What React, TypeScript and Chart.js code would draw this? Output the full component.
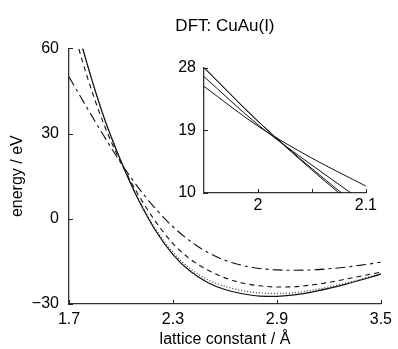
import React, { useEffect, useRef } from "react";
import { Chart, registerables } from "chart.js";

Chart.register(...registerables);

// ---- data ----
const latticeA = [1.7, 1.8, 1.9, 2.0, 2.1, 2.2, 2.3, 2.4, 2.5, 2.6, 2.7, 2.8, 2.9, 3.0, 3.1, 3.2, 3.3, 3.4, 3.5];
const solidE = [78, 55.5, 36, 20.3, 6.8, -4.2, -12.6, -18.5, -22.4, -24.9, -26.4, -27.2, -27.3, -26.8, -25.8, -24.5, -23, -21.3, -19.5];
const dottedE = [78, 55.5, 36, 20.3, 7.2, -3.6, -11.8, -17.6, -21.4, -23.8, -25.3, -26.1, -26.3, -26, -25.2, -24, -22.6, -21, -19.3];
const dashedE = [72, 51, 33.5, 19.8, 8.5, -1, -8.7, -14.2, -18, -20.8, -22.6, -23.6, -24, -23.9, -23.3, -22.4, -21.2, -20, -18.8];
const dashDotE = [50, 39.5, 29.3, 19.6, 11, 3.5, -2.8, -7.9, -11.8, -14.6, -16.4, -17.5, -18, -18.1, -18, -17.6, -17, -16.2, -15.3];
const mainXTicks = [1.7, 2.3, 2.9, 3.5];
const mainYTicks = [-30, 0, 30, 60];

const insetA = [1.95, 2.0, 2.05, 2.1];
const insetSolid = [28, 20.3, 13.3, 6.8];
const insetDotted = [28, 20.3, 13.5, 7.2];
const insetDashed = [26.7, 19.8, 14, 8.5];
const insetDashDot = [25.3, 19.6, 15, 11];
const insetXTicks = [2.0, 2.05, 2.1];
const insetXLabels = ["2", "", "2.1"];
const insetYTicks = [10, 19, 28];

const FONT = "'Liberation Sans', Arial, Helvetica, sans-serif";

const inwardTicks = {
  id: "inwardTicks",
  afterDraw(chart: any) {
    const ctx = chart.ctx;
    const area = chart.chartArea;
    const len = 4;
    ctx.save();
    ctx.strokeStyle = "#222";
    ctx.lineWidth = 1;
    const xs = chart.scales.x;
    const ys = chart.scales.y;
    xs.ticks.forEach((t: any) => {
      const px = Math.round(xs.getPixelForValue(t.value)) + 0.5;
      ctx.beginPath();
      ctx.moveTo(px, area.bottom);
      ctx.lineTo(px, area.bottom - len);
      ctx.stroke();
    });
    ys.ticks.forEach((t: any) => {
      const py = Math.round(ys.getPixelForValue(t.value)) + 0.5;
      ctx.beginPath();
      ctx.moveTo(area.left, py);
      ctx.lineTo(area.left + len, py);
      ctx.stroke();
    });
    ctx.restore();
  },
};

function pts(xs: number[], ys: number[]) {
  return xs.map((x, i) => ({ x, y: ys[i] }));
}

const lineStyles = [
  { dash: [] as number[], color: "#111", width: 1.2 },
  { dash: [1, 2], color: "#444", width: 1.3 },
  { dash: [5, 4], color: "#111", width: 1.1 },
  { dash: [10, 4, 3, 4], color: "#111", width: 1.1 },
];

export default function App() {
  const mainRef = useRef<HTMLCanvasElement>(null);
  const insetRef = useRef<HTMLCanvasElement>(null);

  useEffect(() => {
    document.body.style.margin = "0";
    Chart.defaults.font.family = FONT;
    Chart.defaults.color = "#000";

    const mainSeries = [solidE, dottedE, dashedE, dashDotE];
    const main = new Chart(mainRef.current!, {
      type: "line",
      data: {
        datasets: mainSeries.map((s, i) => ({
          data: pts(latticeA, s),
          borderColor: lineStyles[i].color,
          borderWidth: lineStyles[i].width,
          borderDash: lineStyles[i].dash,
          pointRadius: 0,
          cubicInterpolationMode: "monotone",
          fill: false,
        })),
      },
      options: {
        animation: false,
        responsive: false,
        maintainAspectRatio: false,
        layout: { padding: { left: 0, right: 14, top: 0, bottom: 0 } },
        plugins: {
          legend: { display: false },
          tooltip: { enabled: false },
          title: {
            display: true,
            text: "DFT: CuAu(I)",
            fullSize: false,
            font: { size: 17, weight: "normal", family: FONT },
            color: "#000",
            padding: { top: 16, bottom: 12 },
          },
        },
        scales: {
          x: {
            type: "linear",
            min: 1.7,
            max: 3.5,
            afterBuildTicks: (s: any) => {
              s.ticks = mainXTicks.map((v) => ({ value: v }));
            },
            afterFit: (s: any) => {
              s.height = 45;
            },
            ticks: {
              callback: (v: any) => Number(v).toFixed(1),
              font: { size: 16, family: FONT },
              color: "#000",
              padding: 6,
              maxRotation: 0,
            },
            grid: { display: false, drawTicks: false },
            border: { display: true, color: "#333", width: 1.3 },
            title: {
              display: true,
              text: "lattice constant / Å",
              font: { size: 16, family: FONT },
              color: "#000",
              padding: { top: 0, bottom: 0 },
            },
          },
          y: {
            type: "linear",
            min: -30,
            max: 60,
            afterBuildTicks: (s: any) => {
              s.ticks = mainYTicks.map((v) => ({ value: v }));
            },
            afterFit: (s: any) => {
              s.width = 69;
            },
            ticks: {
              callback: (v: any) => String(v).replace("-", "\u2212"),
              font: { size: 16, family: FONT },
              color: "#000",
              padding: 10,
            },
            grid: { display: false, drawTicks: false },
            border: { display: true, color: "#333", width: 1.3 },
            title: {
              display: true,
              text: "energy / eV",
              font: { size: 16, family: FONT },
              color: "#000",
              padding: { top: 8, bottom: 0 },
            },
          },
        },
      },
      plugins: [inwardTicks],
    });

    const insetSeries = [insetSolid, insetDotted, insetDashed, insetDashDot];
    const inset = new Chart(insetRef.current!, {
      type: "line",
      data: {
        datasets: insetSeries.map((s) => ({
          data: pts(insetA, s),
          borderColor: "#111",
          borderWidth: 1,
          pointRadius: 0,
          cubicInterpolationMode: "monotone",
          fill: false,
        })),
      },
      options: {
        animation: false,
        responsive: false,
        maintainAspectRatio: false,
        layout: { padding: { left: 0, right: 14, top: 11, bottom: 0 } },
        plugins: {
          legend: { display: false },
          tooltip: { enabled: false },
          title: { display: false },
        },
        scales: {
          x: {
            type: "linear",
            min: 1.95,
            max: 2.1,
            afterBuildTicks: (s: any) => {
              s.ticks = insetXTicks.map((v) => ({ value: v }));
            },
            afterFit: (s: any) => {
              s.height = 27;
            },
            ticks: {
              callback: (_v: any, i: number) => insetXLabels[i],
              font: { size: 16, family: FONT },
              color: "#000",
              padding: 3,
              maxRotation: 0,
              autoSkip: false,
            },
            grid: { display: false, drawTicks: false },
            border: { display: true, color: "#333", width: 1.3 },
          },
          y: {
            type: "linear",
            min: 10,
            max: 28,
            afterBuildTicks: (s: any) => {
              s.ticks = insetYTicks.map((v) => ({ value: v }));
            },
            afterFit: (s: any) => {
              s.width = 44;
            },
            ticks: {
              font: { size: 16, family: FONT },
              color: "#000",
              padding: 8,
            },
            grid: { display: false, drawTicks: false },
            border: { display: true, color: "#333", width: 1.3 },
          },
        },
      },
      plugins: [inwardTicks],
    });

    return () => {
      main.destroy();
      inset.destroy();
    };
  }, []);

  return (
    <div style={{ position: "relative", width: 398, height: 349, background: "#fff" }}>
      <canvas ref={mainRef} width={398} height={349} style={{ position: "absolute", left: 0, top: 0 }} />
      <canvas ref={insetRef} width={220} height={170} style={{ position: "absolute", left: 160, top: 50 }} />
    </div>
  );
}
